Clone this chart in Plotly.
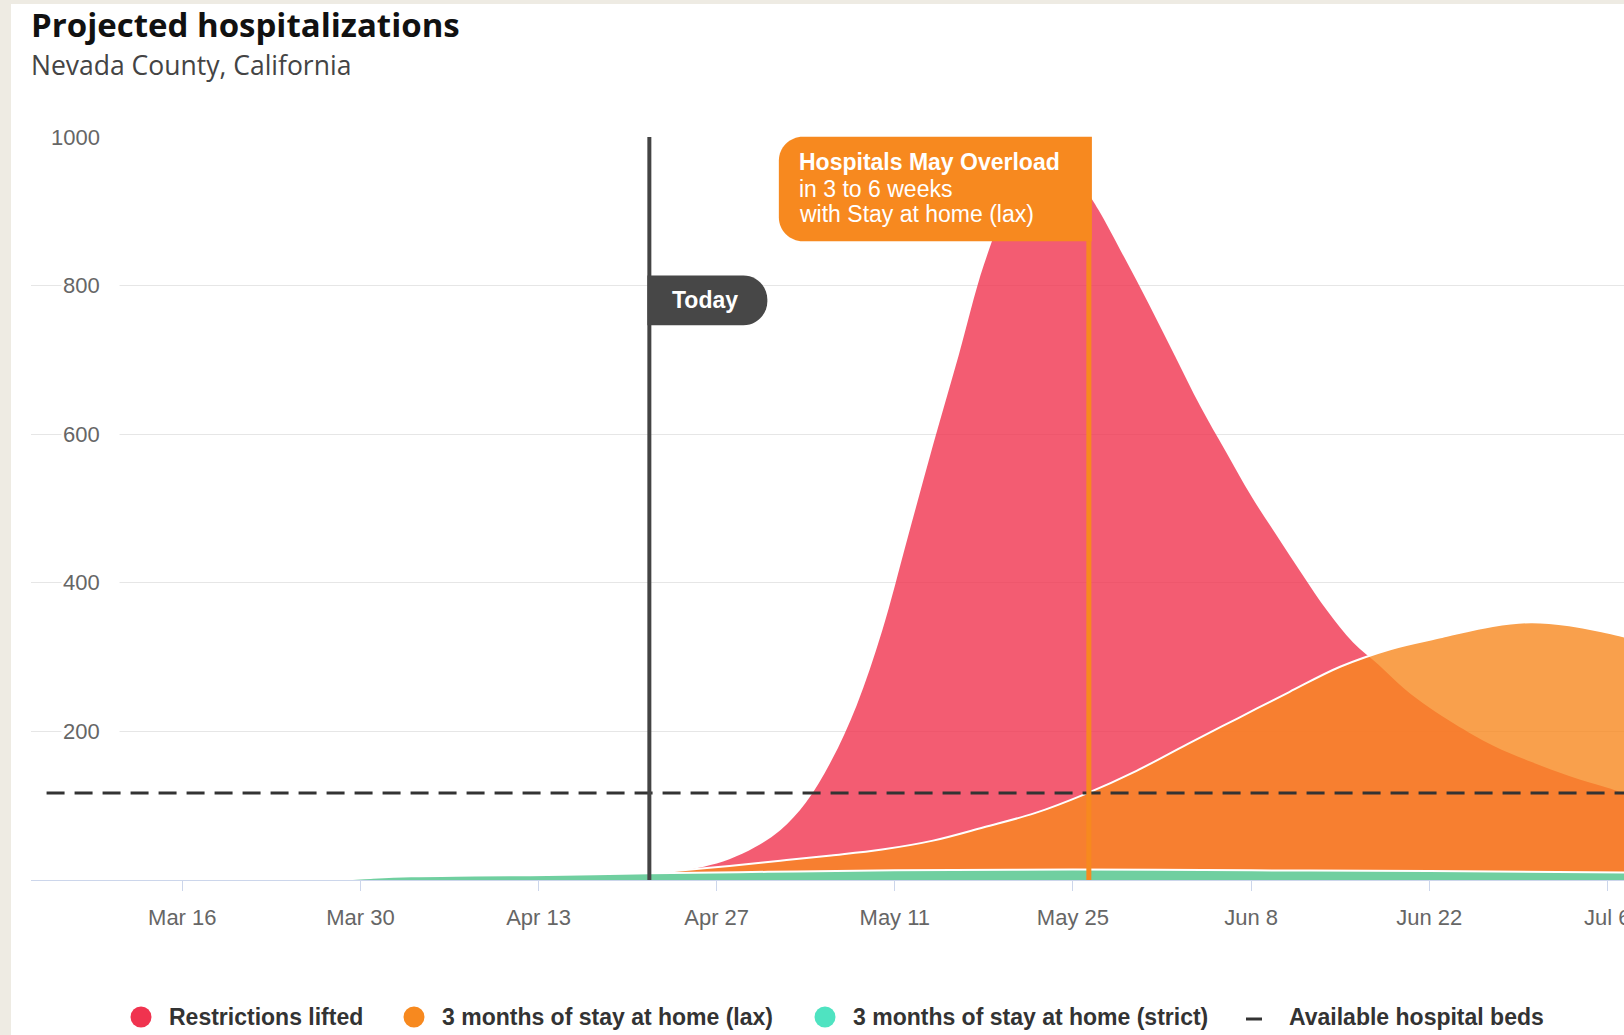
import plotly.graph_objects as go

# ---------------- data ----------------
TITLE = "Projected hospitalizations"
SUBTITLE = "Nevada County, California"

X_TICK_DATES = ["2020-03-16", "2020-03-30", "2020-04-13", "2020-04-27", "2020-05-11",
                "2020-05-25", "2020-06-08", "2020-06-22", "2020-07-06"]
X_TICK_LABELS = ["Mar 16", "Mar 30", "Apr 13", "Apr 27", "May 11",
                 "May 25", "Jun 8", "Jun 22", "Jul 6"]
Y_TICKS = [200, 400, 600, 800, 1000]
Y_TICK_LABELS = ["200", "400", "600", "800", "1000"]

TODAY = "2020-04-21 17:00"
OVERLOAD_DATE = "2020-05-26 06:00"

RED_NAME = "Restrictions lifted"
RED_DATES = ["2020-04-21 17:00", "2020-04-24", "2020-04-26", "2020-04-28", "2020-04-30",
             "2020-05-02", "2020-05-04", "2020-05-06", "2020-05-08", "2020-05-10",
             "2020-05-12", "2020-05-14", "2020-05-16", "2020-05-18", "2020-05-20",
             "2020-05-22", "2020-05-24", "2020-05-26", "2020-05-27", "2020-05-29",
             "2020-05-31", "2020-06-02", "2020-06-04", "2020-06-06", "2020-06-08",
             "2020-06-10", "2020-06-12", "2020-06-14", "2020-06-16", "2020-06-18",
             "2020-06-20", "2020-06-22", "2020-06-24", "2020-06-27", "2020-06-30",
             "2020-07-03", "2020-07-06", "2020-07-08"]
RED_VALUES = [9, 12, 18, 28, 44,
              67, 104, 160, 235, 335,
              460, 585, 705, 828, 915,
              963, 962, 928, 902, 839,
              774, 706, 638, 577, 517,
              464, 412, 362, 320, 290,
              258, 232, 210, 181, 159,
              140, 124, 113]

LAX_NAME = "3 months of stay at home (lax)"
LAX_DATES = ["2020-04-21 17:00", "2020-04-25", "2020-04-28", "2020-05-02", "2020-05-06",
             "2020-05-10", "2020-05-14", "2020-05-18", "2020-05-22", "2020-05-26",
             "2020-05-30", "2020-06-03", "2020-06-07", "2020-06-11", "2020-06-15",
             "2020-06-19", "2020-06-23", "2020-06-27", "2020-06-30", "2020-07-03",
             "2020-07-06", "2020-07-08"]
LAX_VALUES = [9, 14, 19, 26, 33,
              41, 53, 71, 90, 116,
              147, 183, 218, 253, 287,
              311, 327, 342, 347, 343,
              333, 325]

STRICT_NAME = "3 months of stay at home (strict)"
STRICT_DATES = ["2020-03-27", "2020-03-29", "2020-03-31", "2020-04-03", "2020-04-08",
                "2020-04-15", "2020-04-21 17:00", "2020-05-01", "2020-05-11", "2020-05-25",
                "2020-06-08", "2020-06-22", "2020-07-08"]
STRICT_VALUES = [0, 1, 3, 5, 6,
                 7, 9, 11, 13, 14,
                 13, 12, 10]

BEDS_NAME = "Available hospital beds"
BEDS_DATES = ["2020-03-05 08:00", "2020-07-08"]
BEDS_VALUES = [117, 117]

# ---------------- layout geometry ----------------
FIG_W, FIG_H = 1624, 1035
M_L, M_R, M_T, M_B = 31, 0, 137, 155
PLOT_W = FIG_W - M_L - M_R
PLOT_H = FIG_H - M_T - M_B


def px(x):
    return (x - M_L) / PLOT_W


def py(y):
    return (FIG_H - M_B - y) / PLOT_H


RED_C = "rgba(240,51,79,0.8)"
LAX_C = "rgba(247,136,31,0.8)"
STRICT_C = "#70cfa0"
RED_SOLID = "#f0334f"
LAX_SOLID = "#f7891f"
STRICT_SOLID = "#4fe3c1"
SANS = "Liberation Sans, Arial, sans-serif"
HEAD = "Open Sans, sans-serif"

fig = go.Figure()
fig.add_trace(go.Scatter(x=RED_DATES, y=RED_VALUES, name=RED_NAME, mode="lines",
                         fill="tozeroy", fillcolor=RED_C,
                         line=dict(width=0, shape="spline", color=RED_C), showlegend=False))
fig.add_trace(go.Scatter(x=LAX_DATES, y=LAX_VALUES, name=LAX_NAME, mode="lines",
                         fill="tozeroy", fillcolor=LAX_C,
                         line=dict(width=2, shape="spline", color="white"), showlegend=False))
fig.add_trace(go.Scatter(x=STRICT_DATES, y=STRICT_VALUES, name=STRICT_NAME, mode="lines",
                         fill="tozeroy", fillcolor=STRICT_C,
                         line=dict(width=2, shape="spline", color="white"), showlegend=False))
fig.add_trace(go.Scatter(x=BEDS_DATES, y=BEDS_VALUES, name=BEDS_NAME, mode="lines",
                         line=dict(width=3, color="#333333", dash="18px,10px"), showlegend=False))

shapes = []
# beige page border
shapes.append(dict(type="rect", xref="paper", yref="paper", x0=px(0), x1=px(11), y0=py(FIG_H), y1=py(0),
                   fillcolor="#eeebe3", line=dict(width=0), layer="above"))
shapes.append(dict(type="rect", xref="paper", yref="paper", x0=px(0), x1=px(FIG_W), y0=py(4), y1=py(0),
                   fillcolor="#eeebe3", line=dict(width=0), layer="above"))

# today line
shapes.append(dict(type="line", xref="x", yref="y", x0=TODAY, x1=TODAY, y0=0, y1=1000,
                   line=dict(color="#444444", width=4), layer="above"))
# overload line
shapes.append(dict(type="line", xref="x", yref="y", x0=OVERLOAD_DATE, x1=OVERLOAD_DATE, y0=0, y1=1000,
                   line=dict(color=LAX_SOLID, width=5), layer="above"))

K = 0.5523


def round_right_box(xl, xr, ytop_px, ybot_px, r):
    T, B = py(ytop_px), py(ybot_px)
    ry = r / PLOT_H
    return (f"M {xl},{T} L {xr - r},{T} C {xr - r + K * r},{T} {xr},{T - ry + K * ry} {xr},{T - ry} "
            f"L {xr},{B + ry} C {xr},{B + ry - K * ry} {xr - r + K * r},{B} {xr - r},{B} L {xl},{B} Z")


def round_left_box(xl, xr, ytop_px, ybot_px, r):
    T, B = py(ytop_px), py(ybot_px)
    ry = r / PLOT_H
    return (f"M {xr},{T} L {xl + r},{T} C {xl + r - K * r},{T} {xl},{T - ry + K * ry} {xl},{T - ry} "
            f"L {xl},{B + ry} C {xl},{B + ry - K * ry} {xl + r - K * r},{B} {xl + r},{B} L {xr},{B} Z")


shapes.append(dict(type="path", xref="x", yref="paper", xsizemode="pixel", xanchor=TODAY,
                   path=round_right_box(-2, 118, 275.5, 325.2, 24),
                   fillcolor="#474747", line=dict(width=0), layer="above"))
shapes.append(dict(type="path", xref="x", yref="paper", xsizemode="pixel", xanchor=OVERLOAD_DATE,
                   path=round_left_box(-310, 3, 136.7, 241.3, 24),
                   fillcolor=LAX_SOLID, line=dict(width=0), layer="above"))

# legend symbols
for cx, col in [(141, RED_SOLID), (414, LAX_SOLID), (825, STRICT_SOLID)]:
    shapes.append(dict(type="circle", xref="paper", yref="paper", xsizemode="pixel", ysizemode="pixel",
                       xanchor=px(cx), yanchor=py(1017), x0=-10.5, x1=10.5, y0=-10.5, y1=10.5,
                       fillcolor=col, line=dict(width=0)))
shapes.append(dict(type="line", xref="paper", yref="paper", x0=px(1246), x1=px(1262), y0=py(1019), y1=py(1019),
                   line=dict(color="#333333", width=3)))

ann = []
ann.append(dict(text=TITLE, xref="paper", yref="paper", x=px(29), y=py(24), xanchor="left", yanchor="middle",
                showarrow=False, font=dict(family=HEAD, size=33, color="#111111", weight="bold")))
ann.append(dict(text=SUBTITLE, xref="paper", yref="paper", x=px(29), y=py(65), xanchor="left", yanchor="middle",
                showarrow=False, font=dict(family=HEAD, size=26.5, color="#444444")))

for v, lab in zip(Y_TICKS, Y_TICK_LABELS):
    ann.append(dict(text=lab + "\u00a0\u00a0\u00a0", xref="paper", yref="y", x=px(120), y=v,
                    xanchor="right", yanchor="middle", showarrow=False, bgcolor="white", borderpad=1,
                    font=dict(family=SANS, size=22, color="#666666")))

ann.append(dict(text="<b>Today</b>", xref="x", yref="paper", x=TODAY, xshift=56, y=py(299.5),
                xanchor="center", yanchor="middle", showarrow=False,
                font=dict(family=SANS, size=23, color="white")))
for i, (t, yy) in enumerate([("<b>Hospitals May Overload</b>", 161.6), ("in 3 to 6 weeks", 188.5),
                             ("with Stay at home (lax)", 214.4)]):
    ann.append(dict(text=t, xref="x", yref="paper", x=OVERLOAD_DATE, xshift=-292, y=py(yy),
                    xanchor="left", yanchor="middle", showarrow=False,
                    font=dict(family=SANS, size=23, color="white")))

for tx, name in [(167, RED_NAME), (440, LAX_NAME), (851, STRICT_NAME), (1287, BEDS_NAME)]:
    ann.append(dict(text=name, xref="paper", yref="paper", x=px(tx), y=py(1017), xanchor="left",
                    yanchor="middle", showarrow=False,
                    font=dict(family=SANS, size=23, color="#333333", weight="bold")))

fig.update_layout(
    width=FIG_W, height=FIG_H,
    margin=dict(l=M_L, r=M_R, t=M_T, b=M_B, autoexpand=False),
    paper_bgcolor="white", plot_bgcolor="white",
    showlegend=False,
    shapes=shapes, annotations=ann,
    xaxis=dict(type="date", range=["2020-03-04 02:38", "2020-07-07 07:26"], showgrid=False,
               showline=True, linecolor="#ccd6eb", linewidth=1, ticks="outside", ticklen=10,
               tickcolor="#ccd6eb", tickwidth=1, tickvals=X_TICK_DATES, ticktext=X_TICK_LABELS,
               tickfont=dict(family=SANS, size=22, color="#666666"), zeroline=False,
               ticklabelstandoff=8, ticklabeloverflow="allow"),
    yaxis=dict(range=[0, 1000], showgrid=True, gridcolor="#e6e6e6", gridwidth=1, tickvals=Y_TICKS,
               showticklabels=False, zeroline=False, showline=False, ticks=""),
)

fig.write_html("out.html", config={"displayModeBar": False},
               post_script="document.body.style.margin='0';document.body.style.overflow='hidden';")
